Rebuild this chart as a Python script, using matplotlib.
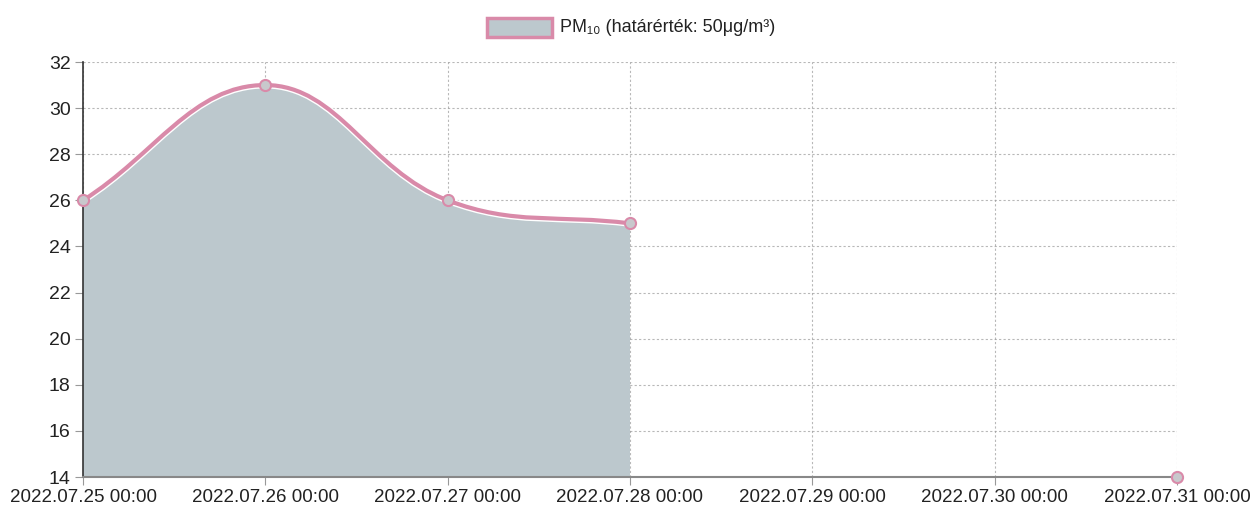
import numpy as np
import matplotlib.pyplot as plt
from matplotlib.path import Path
from matplotlib.patches import PathPatch, Rectangle

# data
days = [0, 1, 2, 3, 6]
values = [26, 31, 26, 25, 14]
tick_labels = ['2022.07.25 00:00', '2022.07.26 00:00', '2022.07.27 00:00',
               '2022.07.28 00:00', '2022.07.29 00:00', '2022.07.30 00:00',
               '2022.07.31 00:00']
y_ticks = [14, 16, 18, 20, 22, 24, 26, 28, 30, 32]
legend_label = 'PM₁₀ (határérték: 50μg/m³)'

LINE = '#d98aa9'
FILL = '#bcc8cd'
FONT = ['Liberation Sans Narrow', 'Liberation Sans', 'DejaVu Sans']

W, H = 1251, 519
fig = plt.figure(figsize=(W / 100, H / 100), dpi=100)
x0, x1, y0, y1 = 83, 1177, 62, 477
ax = fig.add_axes([x0 / W, 1 - y1 / H, (x1 - x0) / W, (y1 - y0) / H])
ax.set_xlim(0, 6)
ax.set_ylim(14, 32)

# pixel scale, for chart.js style bezier control points
sx = (x1 - x0) / 6.0
sy = (y1 - y0) / 18.0


def spline(xs, ys, t=0.4):
    px = np.array(xs, float) * sx
    py = np.array(ys, float) * sy
    n = len(px)
    verts = [(px[0], py[0])]
    codes = [Path.MOVETO]
    ctrl = []
    for i in range(n):
        p = (px[max(i - 1, 0)], py[max(i - 1, 0)])
        c = (px[i], py[i])
        nx = (px[min(i + 1, n - 1)], py[min(i + 1, n - 1)])
        d01 = np.hypot(c[0] - p[0], c[1] - p[1])
        d12 = np.hypot(nx[0] - c[0], nx[1] - c[1])
        tot = d01 + d12
        s01 = d01 / tot if tot else 0
        s12 = d12 / tot if tot else 0
        fa, fb = t * s01, t * s12
        ctrl.append(((c[0] - fa * (nx[0] - p[0]), c[1] - fa * (nx[1] - p[1])),
                     (c[0] + fb * (nx[0] - p[0]), c[1] + fb * (nx[1] - p[1]))))
    for i in range(1, n):
        verts += [ctrl[i - 1][1], ctrl[i][0], (px[i], py[i])]
        codes += [Path.CURVE4] * 3
    verts = [(vx / sx, vy / sy) for vx, vy in verts]
    return verts, codes


seg_x = days[:4]
seg_y = values[:4]
verts, codes = spline(seg_x, seg_y)

# fill area
fv = verts + [(seg_x[-1], 14), (seg_x[0], 14), verts[0]]
fc = codes + [Path.LINETO, Path.LINETO, Path.CLOSEPOLY]
ax.add_patch(PathPatch(Path(fv, fc), facecolor=FILL, edgecolor='none', zorder=1))
ax.add_patch(PathPatch(Path(verts, codes), facecolor='none', edgecolor='white',
                       lw=5, zorder=2))
ax.add_patch(PathPatch(Path(verts, codes), facecolor='none', edgecolor=LINE,
                       lw=3, zorder=3, capstyle='round'))
ax.plot(days, values, 'o', ms=8, mfc='#c8c8cc', mec=LINE, mew=1.5,
        zorder=4, clip_on=False, linestyle='none')

ax.set_xticks(range(7))
ax.set_xticklabels(tick_labels, family=FONT, fontsize=13.5, color='#222222')
ax.set_yticks(y_ticks)
ax.set_yticklabels([str(v) for v in y_ticks], family=FONT, fontsize=14,
                   color='#222222')
ax.tick_params(axis='both', length=6, color='#999999', pad=3)
ax.grid(True, color='#9a9a9a', lw=0.8, ls=(0, (2, 2)), alpha=0.7)
ax.set_axisbelow(True)
for s in ['top', 'right']:
    ax.spines[s].set_visible(False)
ax.spines['left'].set_color('#333333')
ax.spines['left'].set_linewidth(1.2)
ax.spines['bottom'].set_color('#888888')
ax.spines['bottom'].set_linewidth(1.5)

# legend
fig.patches.append(Rectangle((487 / W, 1 - 37 / H), 65 / W, 19 / H,
                             transform=fig.transFigure, facecolor=FILL,
                             edgecolor=LINE, lw=2.5))
fig.text(560 / W, 1 - 27 / H, legend_label, family=FONT, fontsize=13,
         color='#222222', va='center', ha='left')

fig.savefig('out.png', dpi=100, facecolor='white')
